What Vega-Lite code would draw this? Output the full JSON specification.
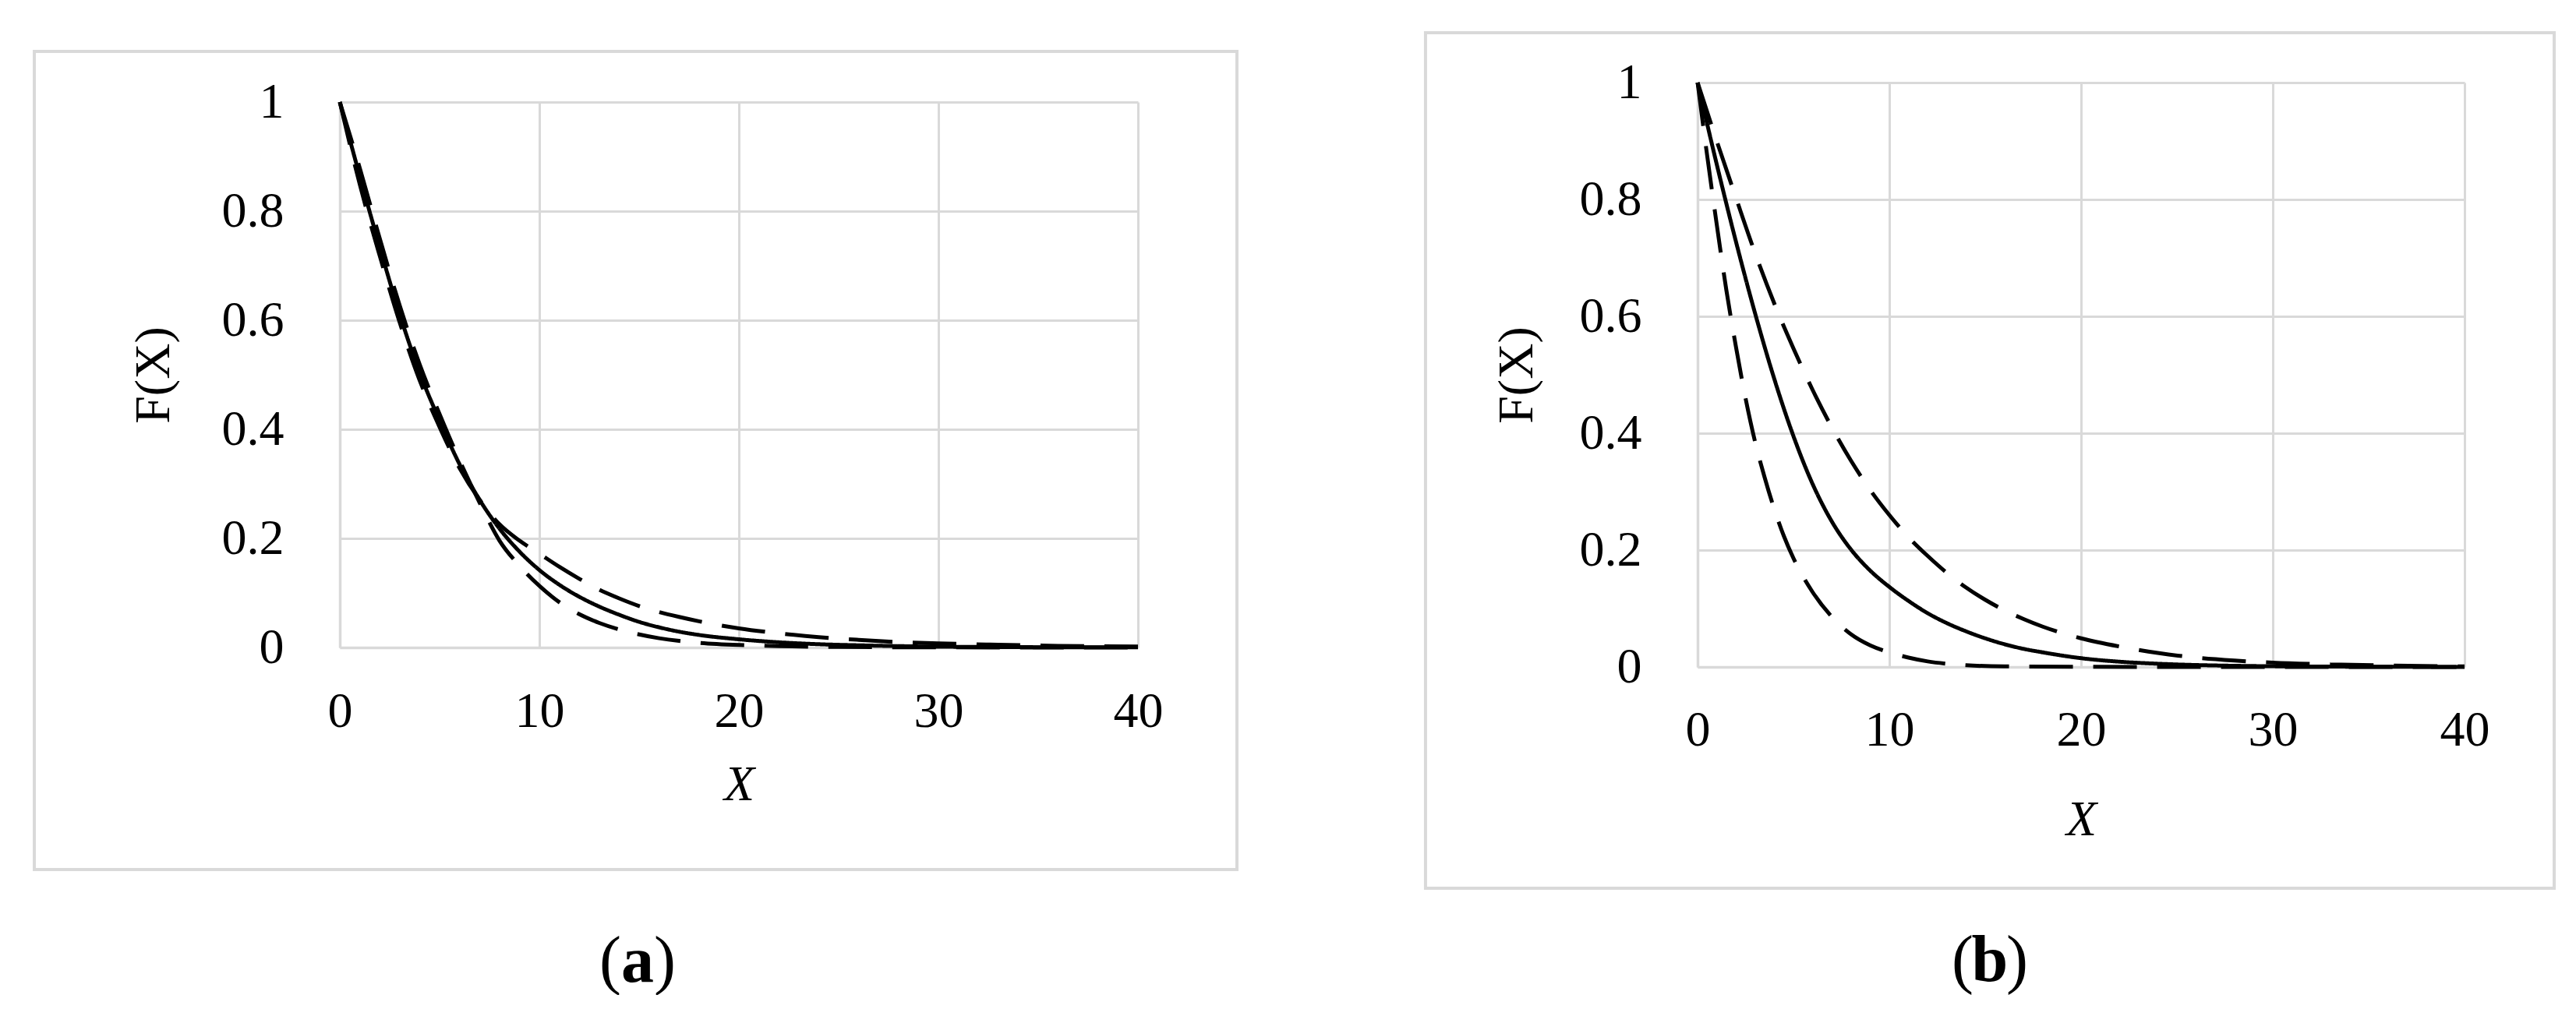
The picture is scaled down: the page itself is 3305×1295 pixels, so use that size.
{
  "$schema": "https://vega.github.io/schema/vega-lite/v6.json",
  "background": "white",
  "padding": {"left": 42, "top": 40, "right": 0, "bottom": 0},
  "autosize": {"type": "pad"},
  "bounds": "flush",
  "center": true,
  "spacing": 718,
  "config": {
    "view": {"stroke": null},
    "font": "Liberation Serif",
    "axis": {
      "labelFont": "Liberation Serif",
      "labelFontSize": 64,
      "labelColor": "black",
      "titleFont": "Liberation Serif",
      "titleFontSize": 64,
      "titleColor": "black",
      "titleFontWeight": "normal",
      "gridColor": "#d9d9d9",
      "gridWidth": 3,
      "domainColor": "#d9d9d9",
      "domainWidth": 3.5,
      "ticks": false,
      "tickSize": 0,
      "labelOverlap": false,
      "labelFlush": false
    }
  },
  "datasets": {
    "a": [
      {"series": "solid", "x": 0, "F": 1}, {"series": "solid", "x": 1, "F": 0.864}, {"series": "solid", "x": 2, "F": 0.734}, {"series": "solid", "x": 3, "F": 0.611}, {"series": "solid", "x": 4, "F": 0.504}, {"series": "solid", "x": 5, "F": 0.416}, {"series": "solid", "x": 6, "F": 0.336}, {"series": "solid", "x": 7, "F": 0.271}, {"series": "solid", "x": 8, "F": 0.218}, {"series": "solid", "x": 9, "F": 0.176}, {"series": "solid", "x": 10, "F": 0.142}, {"series": "solid", "x": 11, "F": 0.115}, {"series": "solid", "x": 12, "F": 0.093}, {"series": "solid", "x": 13, "F": 0.075}, {"series": "solid", "x": 14, "F": 0.06}, {"series": "solid", "x": 15, "F": 0.047}, {"series": "solid", "x": 16, "F": 0.037}, {"series": "solid", "x": 17, "F": 0.029}, {"series": "solid", "x": 18, "F": 0.023}, {"series": "solid", "x": 20, "F": 0.015}, {"series": "solid", "x": 22, "F": 0.0095}, {"series": "solid", "x": 24, "F": 0.006}, {"series": "solid", "x": 26, "F": 0.004}, {"series": "solid", "x": 28, "F": 0.0025}, {"series": "solid", "x": 30, "F": 0.0015}, {"series": "solid", "x": 33, "F": 0.0008}, {"series": "solid", "x": 36, "F": 0.0004}, {"series": "solid", "x": 40, "F": 0.0002},
      {"series": "upper", "x": 0, "F": 1}, {"series": "upper", "x": 1, "F": 0.849}, {"series": "upper", "x": 2, "F": 0.718}, {"series": "upper", "x": 3, "F": 0.596}, {"series": "upper", "x": 4, "F": 0.49}, {"series": "upper", "x": 5, "F": 0.404}, {"series": "upper", "x": 6, "F": 0.329}, {"series": "upper", "x": 7, "F": 0.271}, {"series": "upper", "x": 8, "F": 0.226}, {"series": "upper", "x": 9, "F": 0.196}, {"series": "upper", "x": 10, "F": 0.172}, {"series": "upper", "x": 11, "F": 0.148}, {"series": "upper", "x": 12, "F": 0.126}, {"series": "upper", "x": 13, "F": 0.106}, {"series": "upper", "x": 14, "F": 0.09}, {"series": "upper", "x": 15, "F": 0.076}, {"series": "upper", "x": 16, "F": 0.065}, {"series": "upper", "x": 17, "F": 0.056}, {"series": "upper", "x": 18, "F": 0.048}, {"series": "upper", "x": 20, "F": 0.035}, {"series": "upper", "x": 22, "F": 0.026}, {"series": "upper", "x": 24, "F": 0.019}, {"series": "upper", "x": 26, "F": 0.014}, {"series": "upper", "x": 28, "F": 0.01}, {"series": "upper", "x": 30, "F": 0.0075}, {"series": "upper", "x": 33, "F": 0.005}, {"series": "upper", "x": 36, "F": 0.003}, {"series": "upper", "x": 40, "F": 0.0018},
      {"series": "lower", "x": 0, "F": 1}, {"series": "lower", "x": 1, "F": 0.879}, {"series": "lower", "x": 2, "F": 0.75}, {"series": "lower", "x": 3, "F": 0.627}, {"series": "lower", "x": 4, "F": 0.519}, {"series": "lower", "x": 5, "F": 0.428}, {"series": "lower", "x": 6, "F": 0.343}, {"series": "lower", "x": 7, "F": 0.266}, {"series": "lower", "x": 8, "F": 0.196}, {"series": "lower", "x": 9, "F": 0.15}, {"series": "lower", "x": 10, "F": 0.113}, {"series": "lower", "x": 11, "F": 0.083}, {"series": "lower", "x": 12, "F": 0.061}, {"series": "lower", "x": 13, "F": 0.045}, {"series": "lower", "x": 14, "F": 0.033}, {"series": "lower", "x": 15, "F": 0.024}, {"series": "lower", "x": 16, "F": 0.017}, {"series": "lower", "x": 17, "F": 0.012}, {"series": "lower", "x": 18, "F": 0.0085}, {"series": "lower", "x": 20, "F": 0.0045}, {"series": "lower", "x": 22, "F": 0.0025}, {"series": "lower", "x": 25, "F": 0.001}, {"series": "lower", "x": 30, "F": 0.0003}, {"series": "lower", "x": 40, "F": 0}
    ],
    "b": [
      {"series": "solid", "x": 0, "F": 1}, {"series": "solid", "x": 1, "F": 0.86}, {"series": "solid", "x": 2, "F": 0.728}, {"series": "solid", "x": 3, "F": 0.605}, {"series": "solid", "x": 4, "F": 0.493}, {"series": "solid", "x": 5, "F": 0.395}, {"series": "solid", "x": 6, "F": 0.313}, {"series": "solid", "x": 7, "F": 0.249}, {"series": "solid", "x": 8, "F": 0.201}, {"series": "solid", "x": 9, "F": 0.165}, {"series": "solid", "x": 10, "F": 0.137}, {"series": "solid", "x": 11, "F": 0.113}, {"series": "solid", "x": 12, "F": 0.092}, {"series": "solid", "x": 13, "F": 0.075}, {"series": "solid", "x": 14, "F": 0.061}, {"series": "solid", "x": 15, "F": 0.049}, {"series": "solid", "x": 16, "F": 0.039}, {"series": "solid", "x": 17, "F": 0.031}, {"series": "solid", "x": 18, "F": 0.025}, {"series": "solid", "x": 20, "F": 0.015}, {"series": "solid", "x": 22, "F": 0.009}, {"series": "solid", "x": 24, "F": 0.0055}, {"series": "solid", "x": 26, "F": 0.0033}, {"series": "solid", "x": 28, "F": 0.002}, {"series": "solid", "x": 30, "F": 0.0012}, {"series": "solid", "x": 33, "F": 0.0006}, {"series": "solid", "x": 36, "F": 0.0003}, {"series": "solid", "x": 40, "F": 0.0001},
      {"series": "upper", "x": 0, "F": 1}, {"series": "upper", "x": 1, "F": 0.9}, {"series": "upper", "x": 2, "F": 0.803}, {"series": "upper", "x": 3, "F": 0.708}, {"series": "upper", "x": 4, "F": 0.622}, {"series": "upper", "x": 5, "F": 0.545}, {"series": "upper", "x": 6, "F": 0.474}, {"series": "upper", "x": 7, "F": 0.41}, {"series": "upper", "x": 8, "F": 0.353}, {"series": "upper", "x": 9, "F": 0.303}, {"series": "upper", "x": 10, "F": 0.26}, {"series": "upper", "x": 11, "F": 0.222}, {"series": "upper", "x": 12, "F": 0.19}, {"series": "upper", "x": 13, "F": 0.161}, {"series": "upper", "x": 14, "F": 0.136}, {"series": "upper", "x": 15, "F": 0.115}, {"series": "upper", "x": 16, "F": 0.097}, {"series": "upper", "x": 17, "F": 0.082}, {"series": "upper", "x": 18, "F": 0.069}, {"series": "upper", "x": 20, "F": 0.049}, {"series": "upper", "x": 22, "F": 0.035}, {"series": "upper", "x": 24, "F": 0.024}, {"series": "upper", "x": 26, "F": 0.016}, {"series": "upper", "x": 28, "F": 0.011}, {"series": "upper", "x": 30, "F": 0.0075}, {"series": "upper", "x": 33, "F": 0.0045}, {"series": "upper", "x": 36, "F": 0.0025}, {"series": "upper", "x": 40, "F": 0.001},
      {"series": "lower", "x": 0, "F": 1}, {"series": "lower", "x": 0.5, "F": 0.875}, {"series": "lower", "x": 1, "F": 0.757}, {"series": "lower", "x": 1.5, "F": 0.645}, {"series": "lower", "x": 2, "F": 0.548}, {"series": "lower", "x": 2.5, "F": 0.46}, {"series": "lower", "x": 3, "F": 0.385}, {"series": "lower", "x": 3.5, "F": 0.324}, {"series": "lower", "x": 4, "F": 0.27}, {"series": "lower", "x": 4.5, "F": 0.224}, {"series": "lower", "x": 5, "F": 0.186}, {"series": "lower", "x": 6, "F": 0.128}, {"series": "lower", "x": 7, "F": 0.086}, {"series": "lower", "x": 8, "F": 0.056}, {"series": "lower", "x": 9, "F": 0.037}, {"series": "lower", "x": 10, "F": 0.025}, {"series": "lower", "x": 11, "F": 0.016}, {"series": "lower", "x": 12, "F": 0.0095}, {"series": "lower", "x": 13, "F": 0.0055}, {"series": "lower", "x": 14, "F": 0.003}, {"series": "lower", "x": 16, "F": 0.001}, {"series": "lower", "x": 20, "F": 0.0002}, {"series": "lower", "x": 40, "F": 0}
    ]
  },
  "hconcat": [
    {
      "width": 1024,
      "height": 700,
      "layer": [
        {
          "data": {"values": [{}]},
          "mark": {"type": "rect", "fill": null, "stroke": "#d9d9d9", "strokeWidth": 4},
          "encoding": {
            "x": {"datum": -15.31, "type": "quantitative", "scale": {"domain": [0, 40], "nice": false}},
            "x2": {"datum": 44.96},
            "y": {"datum": 1.0929, "type": "quantitative", "scale": {"domain": [0, 1], "nice": false}},
            "y2": {"datum": -0.4071}
          }
        },
        {
          "data": {"name": "a"},
          "mark": {"type": "line", "interpolate": "monotone", "color": "black", "strokeWidth": 5},
          "encoding": {
            "x": {"field": "x", "type": "quantitative", "scale": {"domain": [0, 40], "nice": false},
              "axis": {"values": [0, 10, 20, 30, 40], "format": "d", "grid": true, "labelPadding": 50, "title": "X", "titleFontStyle": "italic", "titlePadding": 30}},
            "y": {"field": "F", "type": "quantitative", "scale": {"domain": [0, 1], "nice": false},
              "axis": {"values": [0, 0.2, 0.4, 0.6, 0.8, 1], "format": "~g", "grid": true, "labelPadding": 72, "title": "F(X)", "titlePadding": 55}},
            "detail": {"field": "series"},
            "strokeDash": {"field": "series", "type": "nominal", "legend": null,
              "scale": {"domain": ["solid", "upper", "lower"], "range": [[1, 0], [56, 26], [56, 26]]}}
          }
        },
        {
          "data": {"values": [{}]},
          "mark": {"type": "text", "text": "(", "font": "Liberation Serif", "fontSize": 84, "align": "right", "baseline": "middle", "dx": -21, "color": "black"},
          "encoding": {"x": {"datum": 14.92, "type": "quantitative"}, "y": {"datum": -0.577, "type": "quantitative"}}
        },
        {
          "data": {"values": [{}]},
          "mark": {"type": "text", "text": "a", "font": "Liberation Serif", "fontSize": 84, "fontWeight": "bold", "align": "center", "baseline": "middle", "color": "black"},
          "encoding": {"x": {"datum": 14.92, "type": "quantitative"}, "y": {"datum": -0.577, "type": "quantitative"}}
        },
        {
          "data": {"values": [{}]},
          "mark": {"type": "text", "text": ")", "font": "Liberation Serif", "fontSize": 84, "align": "left", "baseline": "middle", "dx": 21, "color": "black"},
          "encoding": {"x": {"datum": 14.92, "type": "quantitative"}, "y": {"datum": -0.577, "type": "quantitative"}}
        }
      ]
    },
    {
      "width": 984,
      "height": 750,
      "layer": [
        {
          "data": {"values": [{}]},
          "mark": {"type": "rect", "fill": null, "stroke": "#d9d9d9", "strokeWidth": 4},
          "encoding": {
            "x": {"datum": -14.19, "type": "quantitative", "scale": {"domain": [0, 40], "nice": false}},
            "x2": {"datum": 44.675},
            "y": {"datum": 1.0853, "type": "quantitative", "scale": {"domain": [0, 1], "nice": false}},
            "y2": {"datum": -0.3787}
          }
        },
        {
          "data": {"name": "b"},
          "mark": {"type": "line", "interpolate": "monotone", "color": "black", "strokeWidth": 5},
          "encoding": {
            "x": {"field": "x", "type": "quantitative", "scale": {"domain": [0, 40], "nice": false},
              "axis": {"values": [0, 10, 20, 30, 40], "format": "d", "grid": true, "labelPadding": 49, "title": "X", "titleFontStyle": "italic", "titlePadding": 51}},
            "y": {"field": "F", "type": "quantitative", "scale": {"domain": [0, 1], "nice": false},
              "axis": {"values": [0, 0.2, 0.4, 0.6, 0.8, 1], "format": "~g", "grid": true, "labelPadding": 72, "title": "F(X)", "titlePadding": 48}},
            "detail": {"field": "series"},
            "strokeDash": {"field": "series", "type": "nominal", "legend": null,
              "scale": {"domain": ["solid", "upper", "lower"], "range": [[1, 0], [52, 24], [52, 24]]}}
          }
        },
        {
          "data": {"values": [{}]},
          "mark": {"type": "text", "text": "(", "font": "Liberation Serif", "fontSize": 84, "align": "right", "baseline": "middle", "dx": -21, "color": "black"},
          "encoding": {"x": {"datum": 15.24, "type": "quantitative"}, "y": {"datum": -0.504, "type": "quantitative"}}
        },
        {
          "data": {"values": [{}]},
          "mark": {"type": "text", "text": "b", "font": "Liberation Serif", "fontSize": 84, "fontWeight": "bold", "align": "center", "baseline": "middle", "color": "black"},
          "encoding": {"x": {"datum": 15.24, "type": "quantitative"}, "y": {"datum": -0.504, "type": "quantitative"}}
        },
        {
          "data": {"values": [{}]},
          "mark": {"type": "text", "text": ")", "font": "Liberation Serif", "fontSize": 84, "align": "left", "baseline": "middle", "dx": 21, "color": "black"},
          "encoding": {"x": {"datum": 15.24, "type": "quantitative"}, "y": {"datum": -0.504, "type": "quantitative"}}
        }
      ]
    }
  ]
}
